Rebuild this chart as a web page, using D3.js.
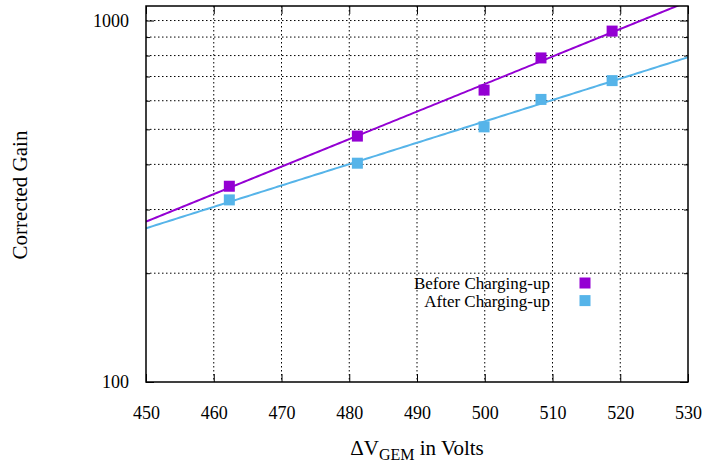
<!DOCTYPE html>
<html><head><meta charset="utf-8">
<script src="https://cdn.jsdelivr.net/npm/d3@7"></script>
<style>body{margin:0;background:#fff}svg{display:block}text{font-family:"Liberation Serif","Times New Roman",serif;fill:#000}</style>
</head><body><svg id="c" width="703" height="468"></svg>
<script>
const voltages = [462.3, 481.2, 499.9, 508.3, 518.8];
const gainBefore = [348, 479, 642, 788, 935];
const gainAfter = [319, 403, 508, 605, 682];
const seriesNames = ["Before Charging-up", "After Charging-up"];
const seriesColors = ["#9400d3", "#56b4e9"];
const xTicks = [450, 460, 470, 480, 490, 500, 510, 520, 530];
const yMajor = [100, 1000];
const yMinor = [200, 300, 400, 500, 600, 700, 800, 900];

const svg = d3.select("#c");
const L = 146, R = 688, T = 6, B = 382;
const x = d3.scaleLinear().domain([450, 530]).range([L, R]);
const y = d3.scaleLog().domain([100, 1097]).range([B, T]);

// grid
const g = svg.append("g");
xTicks.slice(1, -1).forEach(v => g.append("line").attr("x1", x(v)).attr("x2", x(v)).attr("y1", T).attr("y2", B)
  .attr("stroke", "#000").attr("stroke-width", 1).attr("stroke-dasharray", "1.5,2.5"));
yMinor.concat([1000]).forEach(v => g.append("line").attr("x1", L).attr("x2", R).attr("y1", y(v)).attr("y2", y(v))
  .attr("stroke", "#000").attr("stroke-width", 1).attr("stroke-dasharray", "1.5,2.5"));

// axes via d3
const axB = d3.axisBottom(x).tickValues(xTicks).tickSize(-8).tickPadding(24).tickFormat(d3.format("d"));
const axT = d3.axisTop(x).tickValues(xTicks).tickSize(-8).tickFormat("");
const axL = d3.axisLeft(y).tickValues(yMajor).tickSize(-8).tickPadding(17).tickFormat(d3.format("d"));
const axLm = d3.axisLeft(y).tickValues(yMinor).tickSize(-4).tickFormat("");
const axR = d3.axisRight(y).tickValues(yMajor).tickSize(-8).tickFormat("");
const axRm = d3.axisRight(y).tickValues(yMinor).tickSize(-4).tickFormat("");
function style(sel){ sel.selectAll(".domain").remove(); sel.selectAll("line").attr("stroke","#000").attr("stroke-width",1);
  sel.selectAll("text").attr("font-size", 18).style("font-family", "Liberation Serif"); }
svg.append("g").attr("transform", `translate(0,${B})`).call(axB).call(style);
svg.append("g").attr("transform", `translate(0,${T})`).call(axT).call(style);
svg.append("g").attr("transform", `translate(${L},0)`).call(axL).call(style);
svg.append("g").attr("transform", `translate(${L},0)`).call(axLm).call(style);
svg.append("g").attr("transform", `translate(${R},0)`).call(axR).call(style);
svg.append("g").attr("transform", `translate(${R},0)`).call(axRm).call(style);

// clip
svg.append("clipPath").attr("id", "clip").append("rect").attr("x", L).attr("y", T).attr("width", R - L).attr("height", B - T);

// fits (least squares in log space)
function fit(xs, ys) {
  const ly = ys.map(Math.log);
  const mx = d3.mean(xs), my = d3.mean(ly);
  const b = d3.sum(xs.map((v, i) => (v - mx) * (ly[i] - my))) / d3.sum(xs.map(v => (v - mx) ** 2));
  const a = my - b * mx;
  return v => Math.exp(a + b * v);
}
const series = [gainBefore, gainAfter];
series.forEach((s, i) => {
  const f = fit(voltages, s);
  const pts = d3.range(450, 530.01, 0.5).map(v => [v, f(v)]);
  svg.append("path").attr("clip-path", "url(#clip)")
    .attr("d", d3.line().x(d => x(d[0])).y(d => y(d[1]))(pts))
    .attr("fill", "none").attr("stroke", seriesColors[i]).attr("stroke-width", 2);
});
series.forEach((s, i) => {
  svg.append("g").selectAll("rect").data(s).join("rect")
    .attr("x", (d, j) => x(voltages[j]) - 5.5).attr("y", d => y(d) - 5.5)
    .attr("width", 11).attr("height", 11).attr("fill", seriesColors[i]);
});

// border
svg.append("rect").attr("x", L).attr("y", T).attr("width", R - L).attr("height", B - T)
  .attr("fill", "none").attr("stroke", "#000").attr("stroke-width", 1.5);

// legend
seriesNames.forEach((n, i) => {
  const yy = 283 + i * 17.6;
  svg.append("text").attr("x", 550).attr("y", yy).attr("dy", "0.35em").attr("text-anchor", "end")
    .attr("font-size", 17).text(n);
  svg.append("rect").attr("x", 579.5).attr("y", yy - 5.5).attr("width", 11).attr("height", 11).attr("fill", seriesColors[i]);
});

// axis labels
const xl = svg.append("text").attr("x", 417).attr("y", 455).attr("text-anchor", "middle").attr("font-size", 21);
xl.append("tspan").text("\u0394V");
xl.append("tspan").attr("dy", 5).attr("font-size", 16).text("GEM");
xl.append("tspan").attr("dy", -5).text(" in Volts");
svg.append("text").attr("transform", "translate(27,195) rotate(-90)").attr("text-anchor", "middle")
  .attr("font-size", 21).text("Corrected Gain");
</script></body></html>
